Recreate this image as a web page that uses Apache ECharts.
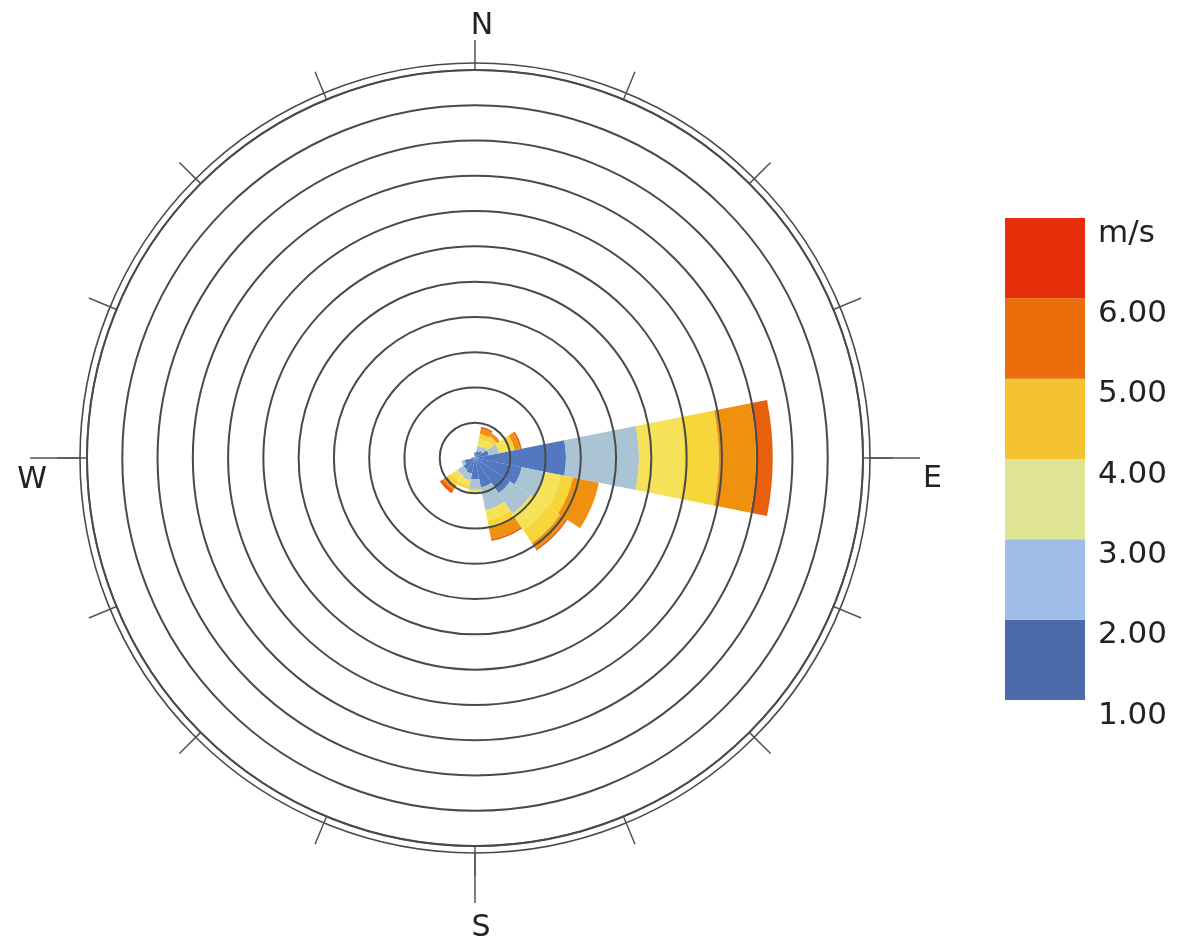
<!DOCTYPE html>
<html>
<head>
<meta charset="utf-8">
<script src="https://cdn.jsdelivr.net/npm/echarts@6/dist/echarts.min.js"></script>
<style>
  html, body { margin: 0; padding: 0; background: #fff; }
  #rose { width: 1179px; height: 949px; }
</style>
</head>
<body>
<div id="rose"></div>
<script>
// 16 wind directions, clockwise from north
var directions = ['N', 'NNE', 'NE', 'ENE', 'E', 'ESE', 'SE', 'SSE', 'S', 'SSW', 'SW', 'WSW', 'W', 'WNW', 'NW', 'NNW'];
var compass = ['N', 'E', 'S', 'W'];

// frequency per speed class, one ring = one unit
var speed1to2 = [0.15, 0.2, 0.25, 0.4, 2.58, 1.35, 1.2, 0.85, 0.6, 0.45, 0.4, 0.3, 0.1, 0.05, 0, 0];
var speed2to3 = [0, 0.15, 0.15, 0.3, 2.07, 0.68, 0.7, 0.65, 0.3, 0.2, 0.2, 0.1, 0, 0, 0, 0];
var speed3to4 = [0, 0.2, 0.2, 0.25, 1.27, 0.45, 0.55, 0.3, 0.1, 0.15, 0.2, 0, 0, 0, 0, 0];
var speed4to5 = [0, 0.15, 0.15, 0.2, 0.99, 0.35, 0.45, 0.2, 0, 0.1, 0.15, 0, 0, 0, 0, 0];
var speed5to6 = [0, 0.15, 0.1, 0.15, 1.05, 0.75, 0.2, 0.35, 0, 0, 0.15, 0, 0, 0, 0, 0];
var speedOver6 = [0, 0.05, 0, 0.05, 0.48, 0, 0.05, 0.05, 0, 0, 0.1, 0, 0, 0, 0, 0];

var speedNames = ['1-2', '2-3', '3-4', '4-5', '5-6', '>6'];
var speedData = [speed1to2, speed2to3, speed3to4, speed4to5, speed5to6, speedOver6];
var roseColors = ['#5377c0', '#aac4d3', '#f6e258', '#f7d63c', '#ef910f', '#e8600c'];
var legendColors = ['#4a6aaa', '#9ebde9', '#dfe495', '#f4c330', '#eb6e0b', '#e62e0b'];
var legendLabels = ['1.00', '2.00', '3.00', '4.00', '5.00', '6.00', 'm/s'];

var lineColor = '#4a4a4a';
var font = 'DejaVu Sans';

var chart = echarts.init(document.getElementById('rose'));

var compassPad = {
  N: [0, 0, 0, 14],
  E: [42, 0, 0, 31],
  S: [38, 0, 0, 12],
  W: [44, 11, 0, 0]
};
var rich = {};
compass.forEach(function (c) {
  rich[c] = {
    fontFamily: font,
    fontSize: 30,
    color: '#222',
    padding: compassPad[c]
  };
});

var series = speedNames.map(function (name, i) {
  return {
    name: name,
    type: 'bar',
    coordinateSystem: 'polar',
    polarIndex: 0,
    stack: 'wind',
    barCategoryGap: '0%',
    itemStyle: { color: roseColors[i] },
    data: speedData[i]
  };
});

// colour key as a stacked bar
legendLabels.slice(0, 6).forEach(function (l, i) {
  series.push({
    type: 'bar',
    xAxisIndex: 0,
    yAxisIndex: 0,
    stack: 'key',
    barWidth: '100%',
    itemStyle: { color: legendColors[i] },
    data: [1]
  });
});

var option = {
  animation: false,
  polar: [
    { center: [475, 458], radius: 388 },
    { center: [475, 458], radius: 395 }
  ],
  angleAxis: [
    {
      polarIndex: 0,
      type: 'category',
      data: directions,
      startAngle: 101.25,
      z: 5,
      axisLine: { lineStyle: { color: lineColor, width: 1.6 } },
      axisTick: { alignWithLabel: true, length: 30, lineStyle: { color: '#555', width: 1.5 } },
      axisLabel: { show: false },
      splitLine: { show: false }
    },
    {
      polarIndex: 1,
      type: 'category',
      data: compass,
      startAngle: 135,
      z: 5,
      axisLine: { lineStyle: { color: lineColor, width: 1.6 } },
      axisTick: {
        alignWithLabel: true,
        length: 50,
        interval: function (idx) { return idx !== 0; },
        lineStyle: { color: '#555', width: 1.5 }
      },
      axisLabel: {
        margin: 22,
        formatter: function (v) { return '{' + v + '|' + v + '}'; },
        rich: rich
      },
      splitLine: { show: false }
    }
  ],
  radiusAxis: [
    {
      polarIndex: 0,
      min: 0,
      max: 11,
      interval: 1,
      z: 5,
      axisLine: { show: false },
      axisTick: { show: false },
      axisLabel: { show: false },
      splitLine: { show: true, lineStyle: { color: lineColor, width: 2 } }
    },
    { polarIndex: 1, show: false }
  ],
  grid: { left: 1005, top: 218, width: 80, height: 482 },
  xAxis: { type: 'category', data: ['key'], show: false },
  yAxis: {
    type: 'value',
    position: 'right',
    min: 0,
    max: 6,
    interval: 1,
    axisLine: { show: false },
    axisTick: { show: false },
    splitLine: { show: false },
    axisLabel: {
      margin: 13,
      fontFamily: font,
      fontSize: 31,
      color: '#222',
      verticalAlign: 'top',
      formatter: function (v) { return legendLabels[v]; }
    }
  },
  series: series
};

chart.setOption(option);
</script>
</body>
</html>
